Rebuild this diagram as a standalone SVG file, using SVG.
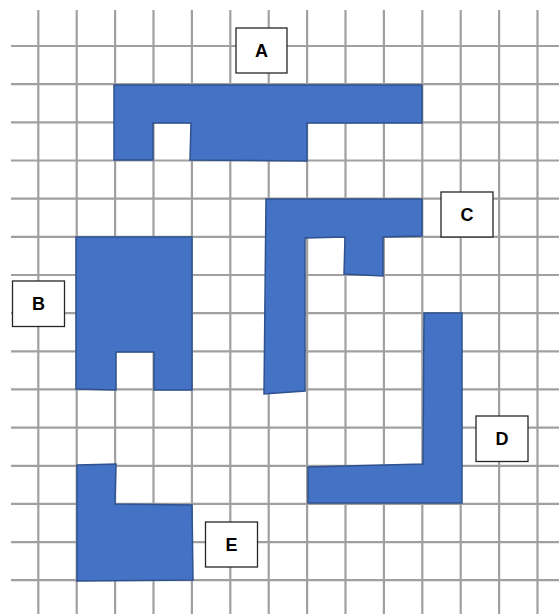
<svg xmlns="http://www.w3.org/2000/svg" width="559" height="614" viewBox="0 0 559 614">
<style>
.grid line{stroke:#a0a0a0;stroke-width:2.2}
.grid2 line{stroke:#6e6e6e;stroke-width:0.8}
.shape{fill:#4472C4;stroke:#2F528F;stroke-width:1.5;stroke-linejoin:miter}
.lbl rect{fill:#fff;stroke:#262626;stroke-width:1.3}
.lbl text{font-family:"Liberation Sans",Arial,sans-serif;font-weight:bold;font-size:18px;fill:#000;text-anchor:middle;dominant-baseline:central}
</style>
<rect width="559" height="614" fill="#fff"/>
<g id="grid" class="grid">
<line x1="38.3" y1="10" x2="38.3" y2="614"/><line x1="76.7" y1="10" x2="76.7" y2="614"/><line x1="115.1" y1="10" x2="115.1" y2="614"/><line x1="153.5" y1="10" x2="153.5" y2="614"/><line x1="191.9" y1="10" x2="191.9" y2="614"/><line x1="230.3" y1="10" x2="230.3" y2="614"/><line x1="268.7" y1="10" x2="268.7" y2="614"/><line x1="307.1" y1="10" x2="307.1" y2="614"/><line x1="345.5" y1="10" x2="345.5" y2="614"/><line x1="383.9" y1="10" x2="383.9" y2="614"/><line x1="422.3" y1="10" x2="422.3" y2="614"/><line x1="460.7" y1="10" x2="460.7" y2="614"/><line x1="499.1" y1="10" x2="499.1" y2="614"/><line x1="537.5" y1="10" x2="537.5" y2="614"/>
<line x1="11" y1="46" x2="559" y2="46"/><line x1="11" y1="84.2" x2="559" y2="84.2"/><line x1="11" y1="122.3" x2="559" y2="122.3"/><line x1="11" y1="160.5" x2="559" y2="160.5"/><line x1="11" y1="198.6" x2="559" y2="198.6"/><line x1="11" y1="236.8" x2="559" y2="236.8"/><line x1="11" y1="275" x2="559" y2="275"/><line x1="11" y1="313.1" x2="559" y2="313.1"/><line x1="11" y1="351.3" x2="559" y2="351.3"/><line x1="11" y1="389.4" x2="559" y2="389.4"/><line x1="11" y1="427.6" x2="559" y2="427.6"/><line x1="11" y1="465.8" x2="559" y2="465.8"/><line x1="11" y1="503.9" x2="559" y2="503.9"/><line x1="11" y1="542.1" x2="559" y2="542.1"/><line x1="11" y1="580.2" x2="559" y2="580.2"/>
</g>
<g id="shapeA"><polygon class="shape" points="114,85 422,85 422,123 307,123 307,161 190,160 191,123 153,123 153,160 114,160"/></g>
<g id="shapeB"><polygon class="shape" points="76,237 192,237 192,390 154,390 154,352 116,352 116,390 76,389"/></g>
<g id="shapeC"><polygon class="shape" points="266,199 422,199 422,236 383,237 383,276 344,274 345,237 305,238 305,391 264,394"/></g>
<g id="shapeD"><polygon class="shape" points="424,313 462,313 462,503 308,503 308,467 423,464"/></g>
<g id="shapeE"><polygon class="shape" points="77,465 116,464 115,504 192,505 193,580 77,581"/></g>
<g id="labelA" class="lbl"><rect x="236" y="28" width="51" height="45"/><text x="261.5" y="51">A</text></g>
<g id="labelB" class="lbl"><rect x="12.5" y="281" width="52" height="45.5"/><text x="38.5" y="304">B</text></g>
<g id="labelC" class="lbl"><rect x="441" y="192" width="52" height="45"/><text x="467" y="215">C</text></g>
<g id="labelD" class="lbl"><rect x="476" y="416" width="52" height="45.5"/><text x="502" y="439">D</text></g>
<g id="labelE" class="lbl"><rect x="205.5" y="522" width="52" height="45"/><text x="231.5" y="545">E</text></g>
</svg>
